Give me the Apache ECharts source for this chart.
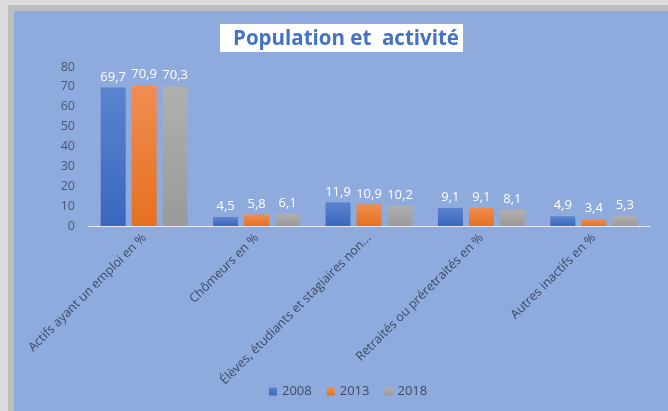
<!DOCTYPE html>
<html>
<head>
<meta charset="utf-8">
<script src="https://cdn.jsdelivr.net/npm/echarts@6/dist/echarts.min.js"></script>
<style>
  html, body {margin: 0; padding: 0; background: #dcdcdc;}
  #main {width: 668px; height: 411px;}
</style>
</head>
<body>
<div id="main"></div>
<script>
const categories = [
  'Actifs ayant un emploi en %',
  'Chômeurs en %',
  'Élèves, étudiants et stagiaires non scolarisés en %',
  'Retraités ou préretraités en %',
  'Autres inactifs en %'
];
const years = ['2008', '2013', '2018'];
const values2008 = [69.7, 4.5, 11.9, 9.1, 4.9];
const values2013 = [70.9, 5.8, 10.9, 9.1, 3.4];
const values2018 = [70.3, 6.1, 10.2, 8.1, 5.3];
const yTicks = {min: 0, max: 80, interval: 10};

const font = 'Open Sans';
const grad = (top, bottom) => new echarts.graphic.LinearGradient(0, 0, 0, 1, [
  {offset: 0, color: top}, {offset: 1, color: bottom}
]);

const makeSeries = (name, data, top, bottom) => ({
  name,
  type: 'bar',
  data,
  barWidth: 25,
  barGap: '24%',
  itemStyle: {color: grad(top, bottom)},
  label: {
    show: true,
    position: 'top',
    distance: 4,
    color: '#ffffff',
    fontFamily: font,
    fontSize: 13,
    formatter: p => String(p.value).replace('.', ',')
  }
});

const chart = echarts.init(document.getElementById('main'));
chart.setOption({
  backgroundColor: '#dcdcdc',
  animation: false,
  textStyle: {fontFamily: font},
  graphic: [
    {type: 'rect', shape: {x: 8, y: 5, width: 660, height: 406}, style: {fill: '#bdbdbd'}, z: -10},
    {type: 'rect', shape: {x: 14, y: 11, width: 654, height: 400}, style: {fill: '#8faadc'}, z: -9},
    {type: 'rect', shape: {x: 220, y: 24, width: 243, height: 28}, style: {fill: '#ffffff'}, z: -8}
  ],
  title: {
    text: 'Population et  activité',
    left: 341,
    textAlign: 'center',
    top: 24,
    textStyle: {color: '#4472c4', fontSize: 20.5, fontWeight: 'bold', fontFamily: font}
  },
  legend: {
    data: years,
    bottom: 8,
    left: 264,
    icon: 'rect',
    itemWidth: 8,
    itemHeight: 8,
    itemGap: 15,
    textStyle: {color: '#3c4a66', fontSize: 13, fontFamily: font}
  },
  grid: {left: 88, right: 18, top: 67, bottom: 185},
  xAxis: {
    type: 'category',
    data: categories,
    axisTick: {show: false},
    axisLine: {lineStyle: {color: '#e4eaf6', width: 1}},
    axisLabel: {
      rotate: 45,
      interval: 0,
      margin: 10,
      color: '#3c4a66',
      fontSize: 12.5,
      fontFamily: font,
      width: 222,
      overflow: 'truncate',
      ellipsis: '...'
    }
  },
  yAxis: {
    type: 'value',
    min: yTicks.min,
    max: yTicks.max,
    interval: yTicks.interval,
    axisLine: {show: false},
    axisTick: {show: false},
    splitLine: {show: false},
    axisLabel: {color: '#4a5770', fontSize: 12.5, fontFamily: font, margin: 13}
  },
  series: [
    makeSeries(years[0], values2008, '#5b84cf', '#3a67bd'),
    makeSeries(years[1], values2013, '#f08d52', '#e5711f'),
    makeSeries(years[2], values2018, '#b0b0b0', '#9a9a9a')
  ]
});
</script>
</body>
</html>
